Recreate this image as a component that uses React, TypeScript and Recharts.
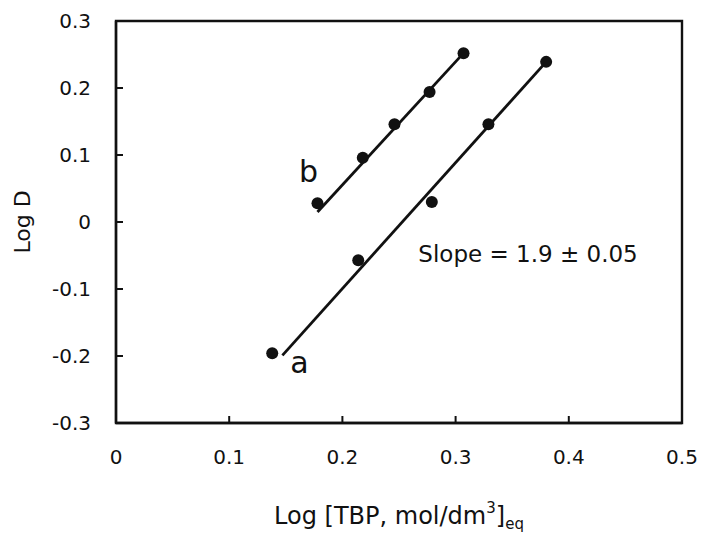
import React from "react";
import {
    ScatterChart, Scatter, XAxis, YAxis, ReferenceArea, ReferenceDot, ReferenceLine
} from "recharts";

// measured points, Log [TBP] vs Log D
const seriesA = [
    { x: 0.138, y: -0.196 },
    { x: 0.214, y: -0.057 },
    { x: 0.279, y: 0.030 },
    { x: 0.329, y: 0.146 },
    { x: 0.380, y: 0.239 },
];
const seriesB = [
    { x: 0.178, y: 0.028 },
    { x: 0.218, y: 0.096 },
    { x: 0.246, y: 0.146 },
    { x: 0.277, y: 0.194 },
    { x: 0.307, y: 0.252 },
];
// fitted lines (end points)
const fitA = [
    { x: 0.147, y: -0.199 },
    { x: 0.380, y: 0.239 },
];
const fitB = [
    { x: 0.178, y: 0.015 },
    { x: 0.307, y: 0.252 },
];
const xTicks = [0, 0.1, 0.2, 0.3, 0.4, 0.5];
const yTicks = [-0.3, -0.2, -0.1, 0, 0.1, 0.2, 0.3];

const fmt = (v: number) => (v === 0 ? "0" : v.toFixed(1));
const ink = "#111";

const Dot = (props: any) => <circle cx={props.cx} cy={props.cy} r={6} fill={ink} />;

const XTitle = (props: any) => {
    const vb = props.viewBox;
    return (
        <text x={vb.x + vb.width / 2} y={vb.y + 101} textAnchor="middle" fill={ink} style={{ fontSize: 24 }}>
            Log [TBP, mol/dm
            <tspan style={{ fontSize: 15 }} dy={-11}>3</tspan>
            <tspan dy={11}>]</tspan>
            <tspan style={{ fontSize: 15 }} dy={5}>eq</tspan>
        </text>
    );
};

const YTitle = (props: any) => {
    const vb = props.viewBox;
    const cx = vb.x - 34;
    const cy = vb.y + vb.height / 2;
    return (
        <text x={cx} y={cy} transform={`rotate(-90 ${cx} ${cy})`} textAnchor="middle"
            dominantBaseline="central" fill={ink} style={{ fontSize: 22 }}>
            Log D
        </text>
    );
};

export default function App() {
    return (
        <div style={{ position: "absolute", left: 0, top: 0, fontFamily: "'DejaVu Sans', sans-serif", background: "#fff" }}>
            <style>{`.recharts-cartesian-axis-tick-value { font-size: 20px; }`}</style>
            <ScatterChart width={702} height={535} margin={{ top: 21, right: 20, bottom: 52, left: 56 }}>
                <XAxis type="number" dataKey="x" domain={[0, 0.5]} ticks={xTicks} tickFormatter={fmt}
                    height={60} tickSize={-7} tickMargin={34} allowDataOverflow
                    axisLine={{ stroke: ink, strokeWidth: 2.4 }} tickLine={{ stroke: ink, strokeWidth: 2 }}
                    tick={{ fill: ink }} label={{ content: XTitle }} />
                <YAxis type="number" dataKey="y" domain={[-0.3, 0.3]} ticks={yTicks} tickFormatter={fmt}
                    width={60} tickSize={-7} tickMargin={32} allowDataOverflow
                    axisLine={{ stroke: ink, strokeWidth: 2.4 }} tickLine={{ stroke: ink, strokeWidth: 2 }}
                    tick={{ fill: ink }} label={{ content: YTitle }} />
                <ReferenceArea x1={0} x2={0.5} y1={-0.3} y2={0.3} fill="none" stroke={ink} strokeWidth={2.4} />
                <ReferenceLine segment={fitA} stroke={ink} strokeWidth={2.8} />
                <ReferenceLine segment={fitB} stroke={ink} strokeWidth={2.8} />
                <Scatter data={seriesA} shape={Dot} isAnimationActive={false} />
                <Scatter data={seriesB} shape={Dot} isAnimationActive={false} />
                <ReferenceDot x={0.170} y={0.075} r={0} fill="none" stroke="none"
                    label={{ value: "b", position: "center", fontSize: 30, fill: ink }} />
                <ReferenceDot x={0.162} y={-0.209} r={0} fill="none" stroke="none"
                    label={{ value: "a", position: "center", fontSize: 30, fill: ink }} />
                <ReferenceDot x={0.364} y={-0.048} r={0} fill="none" stroke="none"
                    label={{ value: "Slope = 1.9 \u00B1 0.05", position: "center", fontSize: 23, fill: ink }} />
            </ScatterChart>
        </div>
    );
}
